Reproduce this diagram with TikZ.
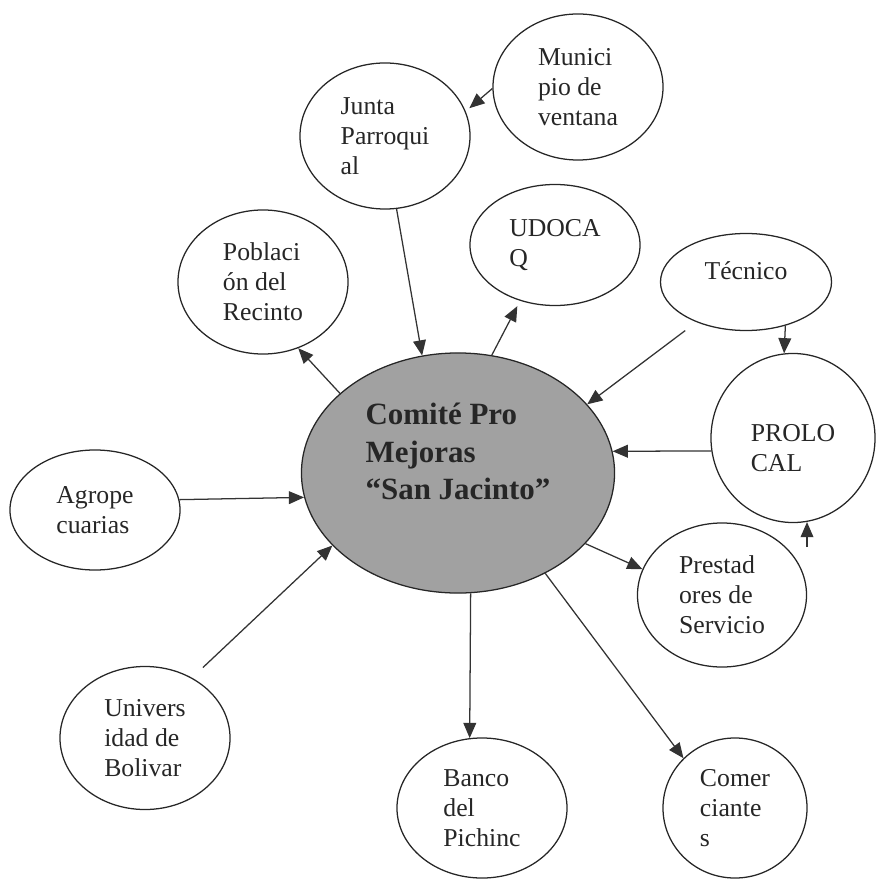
\documentclass[tikz,border=0pt]{standalone}
\usepackage{fontspec}
\setmainfont{Liberation Serif}
\usetikzlibrary{shapes.geometric,arrows.meta}

\begin{document}
\begin{tikzpicture}
  [x=0.025cm, y=-0.025cm,
   bubble/.style={ellipse,draw=black!85,line width=0.9pt,inner sep=0pt,align=left,
     text=black!85,font=\fontsize{18.3}{21.3}\selectfont},
   link/.style={-{Triangle[length=3.8mm,width=3.2mm]},draw=black!80,line width=0.9pt}]
  \useasboundingbox (0,0) rectangle (876,879);

  % center
  \node[bubble,fill=black!37,minimum width=7.825cm,minimum height=6cm,text depth=1.075cm,
    font=\bfseries\fontsize{22}{26.7}\selectfont] (comite) at (458,473) {Comité Pro\\Mejoras\\“San Jacinto”};

  % around
  \node[bubble,minimum width=4.25cm,minimum height=3.65cm] (muni) at (578,87) {Munici\\pio de\\ventana};
  \node[bubble,minimum width=4.25cm,minimum height=3.65cm] (junta) at (385,136) {Junta\\Parroqui\\al};
  \node[bubble,minimum width=4.25cm,minimum height=3.025cm] (udocaq) at (555,245) {UDOCA\\Q};
  \node[bubble,minimum width=4.25cm,minimum height=3.6cm] (pobl) at (263,282) {Poblaci\\ón del\\Recinto};
  \node[bubble,minimum width=4.275cm,minimum height=2.425cm,text depth=0.55cm] (tecnico) at (746,282) {Técnico};
  \node[bubble,minimum width=4.1cm,minimum height=4.225cm] (prolocal) at (793,438) {};
  \node[bubble,draw=none] (prolocaltext) at ([yshift=-0.25cm]prolocal) {PROLO\\CAL};
  \node[bubble,minimum width=4.25cm,minimum height=3cm] (agro) at (95,510) {Agrope\\cuarias};
  \node[bubble,minimum width=4.225cm,minimum height=3.6cm] (prest) at (722,595) {Prestad\\ores de\\Servicio};
  \node[bubble,minimum width=4.25cm,minimum height=3.575cm] (univ) at (145,738) {Univers\\idad de\\Bolivar};
  \node[bubble,minimum width=4.25cm,minimum height=3.5cm] (banco) at (482,808) {Banco\\del\\Pichinc};
  \node[bubble,minimum width=3.6cm,minimum height=3.5cm] (comer) at (735,808) {Comer\\ciante\\s};
  \coordinate (prestarrow) at (807,547);

  \path (muni.181) edge[link, shorten >=1.2mm] (junta.17);
  \path (junta.-81) edge[link] (comite.107);
  \path (comite.146) edge[link] (pobl.-62);
  \path (comite.74) edge[link, shorten >=1.5mm] (udocaq.238);
  \path (tecnico.219) edge[link, shorten <=3.5mm] (comite.28);
  \path (tecnico.-48) edge[link] (prolocal.96);
  \path (prolocal.189) edge[link] (comite.8);
  \path (prestarrow) edge[link] (prestarrow |- prolocal.-81);
  \path (comite.-29) edge[link] (prest.162);
  \path (comite.-84) edge[link] (banco.100);
  \path (comite.-49) edge[link] (comer.136);
  \path (agro.7) edge[link] (comite.189);
  \path (univ.52) edge[link, shorten <=3.7mm] (comite.210);
\end{tikzpicture}
\end{document}
